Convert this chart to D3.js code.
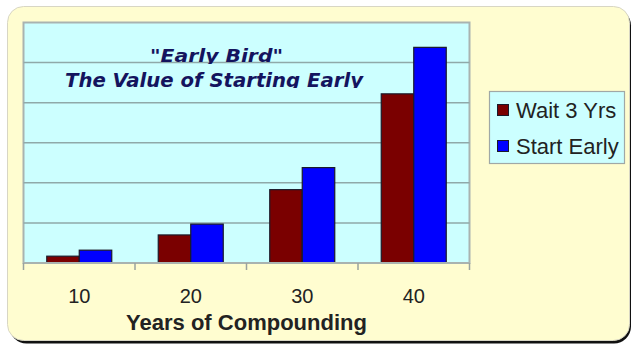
<!DOCTYPE html>
<html><head><meta charset="utf-8">
<script src="https://cdn.jsdelivr.net/npm/d3@7"></script>
<style>html,body{margin:0;padding:0;background:#fff;}svg{display:block;}</style>
</head><body>
<script>
const categories = ["10", "20", "30", "40"];
const waitValues = [0.17, 0.70, 1.83, 4.22];
const earlyValues = [0.32, 0.97, 2.38, 5.38];
const seriesNames = ["Wait 3 Yrs", "Start Early"];
const seriesColors = ["#7a0000", "#0000ff"];
const gridTicks = [1, 2, 3, 4, 5];
const titleLines = ["\"Early Bird\"", "The Value of Starting Early"];
const xTitle = "Years of Compounding";

const W = 632, H = 345;
const svg = d3.select("body").append("svg").attr("width", W).attr("height", H);

// card shadow + card
svg.append("rect").attr("x", 9.5).attr("y", 8.5).attr("width", 621.5).attr("height", 335)
  .attr("rx", 17).attr("fill", "#111");
svg.append("rect").attr("x", 7.5).attr("y", 6.5).attr("width", 622).attr("height", 334)
  .attr("rx", 16).attr("fill", "#fffdd0").attr("stroke", "#d8d6c4").attr("stroke-width", 1);

const plot = {l: 23.5, t: 22.5, r: 469.5, b: 263};
const x = d3.scaleBand().domain(categories).range([plot.l, plot.r]);
const y = d3.scaleLinear().domain([0, 6]).range([plot.b, plot.t]);
const barW = 32.5;
const xs = d3.scaleBand().domain(seriesNames).range([0, barW * 2]);
const groupOff = (x.bandwidth() - barW * 2) / 2;

// plot area
svg.append("rect").attr("x", plot.l).attr("y", plot.t)
  .attr("width", plot.r - plot.l).attr("height", plot.b - plot.t)
  .attr("fill", "#ccffff").attr("stroke", "#a9b3b0").attr("stroke-width", 2);

// gridlines
svg.append("g").selectAll("line").data(gridTicks).join("line")
  .attr("x1", plot.l).attr("x2", plot.r)
  .attr("y1", d => y(d)).attr("y2", d => y(d))
  .attr("stroke", "#8fa9a9").attr("stroke-width", 1.5);

// title (clipped like the original)
const defs = svg.append("defs");
defs.append("clipPath").attr("id", "c1").append("rect").attr("x", 0).attr("y", 0).attr("width", W).attr("height", 64);
defs.append("clipPath").attr("id", "c2").append("rect").attr("x", 0).attr("y", 64).attr("width", W).attr("height", 24);
const titleSpecs = [
  {text: titleLines[0], cx: 216.5, base: 61.7, size: 18.5, len: 133, clip: "c1"},
  {text: titleLines[1], cx: 214, base: 86.7, size: 20, len: 298, clip: "c2"}
];
svg.append("g").selectAll("text").data(titleSpecs).join("text")
  .attr("clip-path", d => `url(#${d.clip})`)
  .attr("x", d => d.cx).attr("y", d => d.base)
  .attr("text-anchor", "middle")
  .attr("font-family", "'DejaVu Sans', Verdana, sans-serif")
  .attr("font-weight", "bold").attr("font-style", "italic")
  .attr("font-size", d => d.size)
  .attr("textLength", d => d.len).attr("lengthAdjust", "spacingAndGlyphs")
  .attr("fill", "#14145e")
  .text(d => d.text);

// bars
const data = categories.map((c, i) => ({c, vals: [waitValues[i], earlyValues[i]]}));
const groups = svg.append("g").selectAll("g").data(data).join("g")
  .attr("transform", d => `translate(${x(d.c) + groupOff},0)`);
groups.selectAll("rect").data(d => d.vals.map((v, j) => ({v, s: seriesNames[j], j}))).join("rect")
  .attr("x", d => xs(d.s)).attr("width", xs.bandwidth())
  .attr("y", d => y(d.v)).attr("height", d => y(0) - y(d.v))
  .attr("fill", d => seriesColors[d.j])
  .attr("stroke", "#1a1a2a").attr("stroke-width", 1.2);

// x axis
const axisG = svg.append("g").attr("transform", `translate(0,${plot.b})`);
axisG.append("line").attr("x1", plot.l).attr("x2", plot.r).attr("y1", 0).attr("y2", 0)
  .attr("stroke", "#a9b3b0").attr("stroke-width", 2);
const boundaries = categories.map(c => x(c)).concat([x(categories[categories.length - 1]) + x.bandwidth()]);
axisG.selectAll("line.tick").data(boundaries).join("line").attr("class", "tick")
  .attr("x1", d => d).attr("x2", d => d).attr("y1", 0).attr("y2", 7)
  .attr("stroke", "#9aa39f").attr("stroke-width", 1.5);
svg.append("g").selectAll("text").data(categories).join("text")
  .attr("x", d => x(d) + x.bandwidth() / 2).attr("y", 303.3)
  .attr("text-anchor", "middle")
  .attr("font-family", "'Liberation Sans', Arial, sans-serif")
  .attr("font-size", 20).attr("fill", "#222")
  .text(d => d);
svg.append("text").attr("x", (plot.l + plot.r) / 2).attr("y", 330)
  .attr("text-anchor", "middle")
  .attr("font-family", "'Liberation Sans', Arial, sans-serif")
  .attr("font-weight", "bold").attr("font-size", 22).attr("fill", "#222")
  .text(xTitle);

// legend
const lg = svg.append("g");
lg.append("rect").attr("x", 489.5).attr("y", 91.5).attr("width", 135).attr("height", 72)
  .attr("fill", "#ccffff").attr("stroke", "#a0a8a6").attr("stroke-width", 1.2);
const items = lg.selectAll("g").data(seriesNames).join("g")
  .attr("transform", (d, i) => `translate(0,${110 + i * 36})`);
items.append("rect").attr("x", 497.5).attr("y", -5.5).attr("width", 11).attr("height", 11)
  .attr("fill", (d, i) => seriesColors[i]).attr("stroke", "#1a1a2a").attr("stroke-width", 1);
items.append("text").attr("x", 516).attr("y", 7.8)
  .attr("font-family", "'Liberation Sans', Arial, sans-serif")
  .attr("font-size", 22).attr("fill", "#222")
  .text(d => d);
</script>
</body></html>
